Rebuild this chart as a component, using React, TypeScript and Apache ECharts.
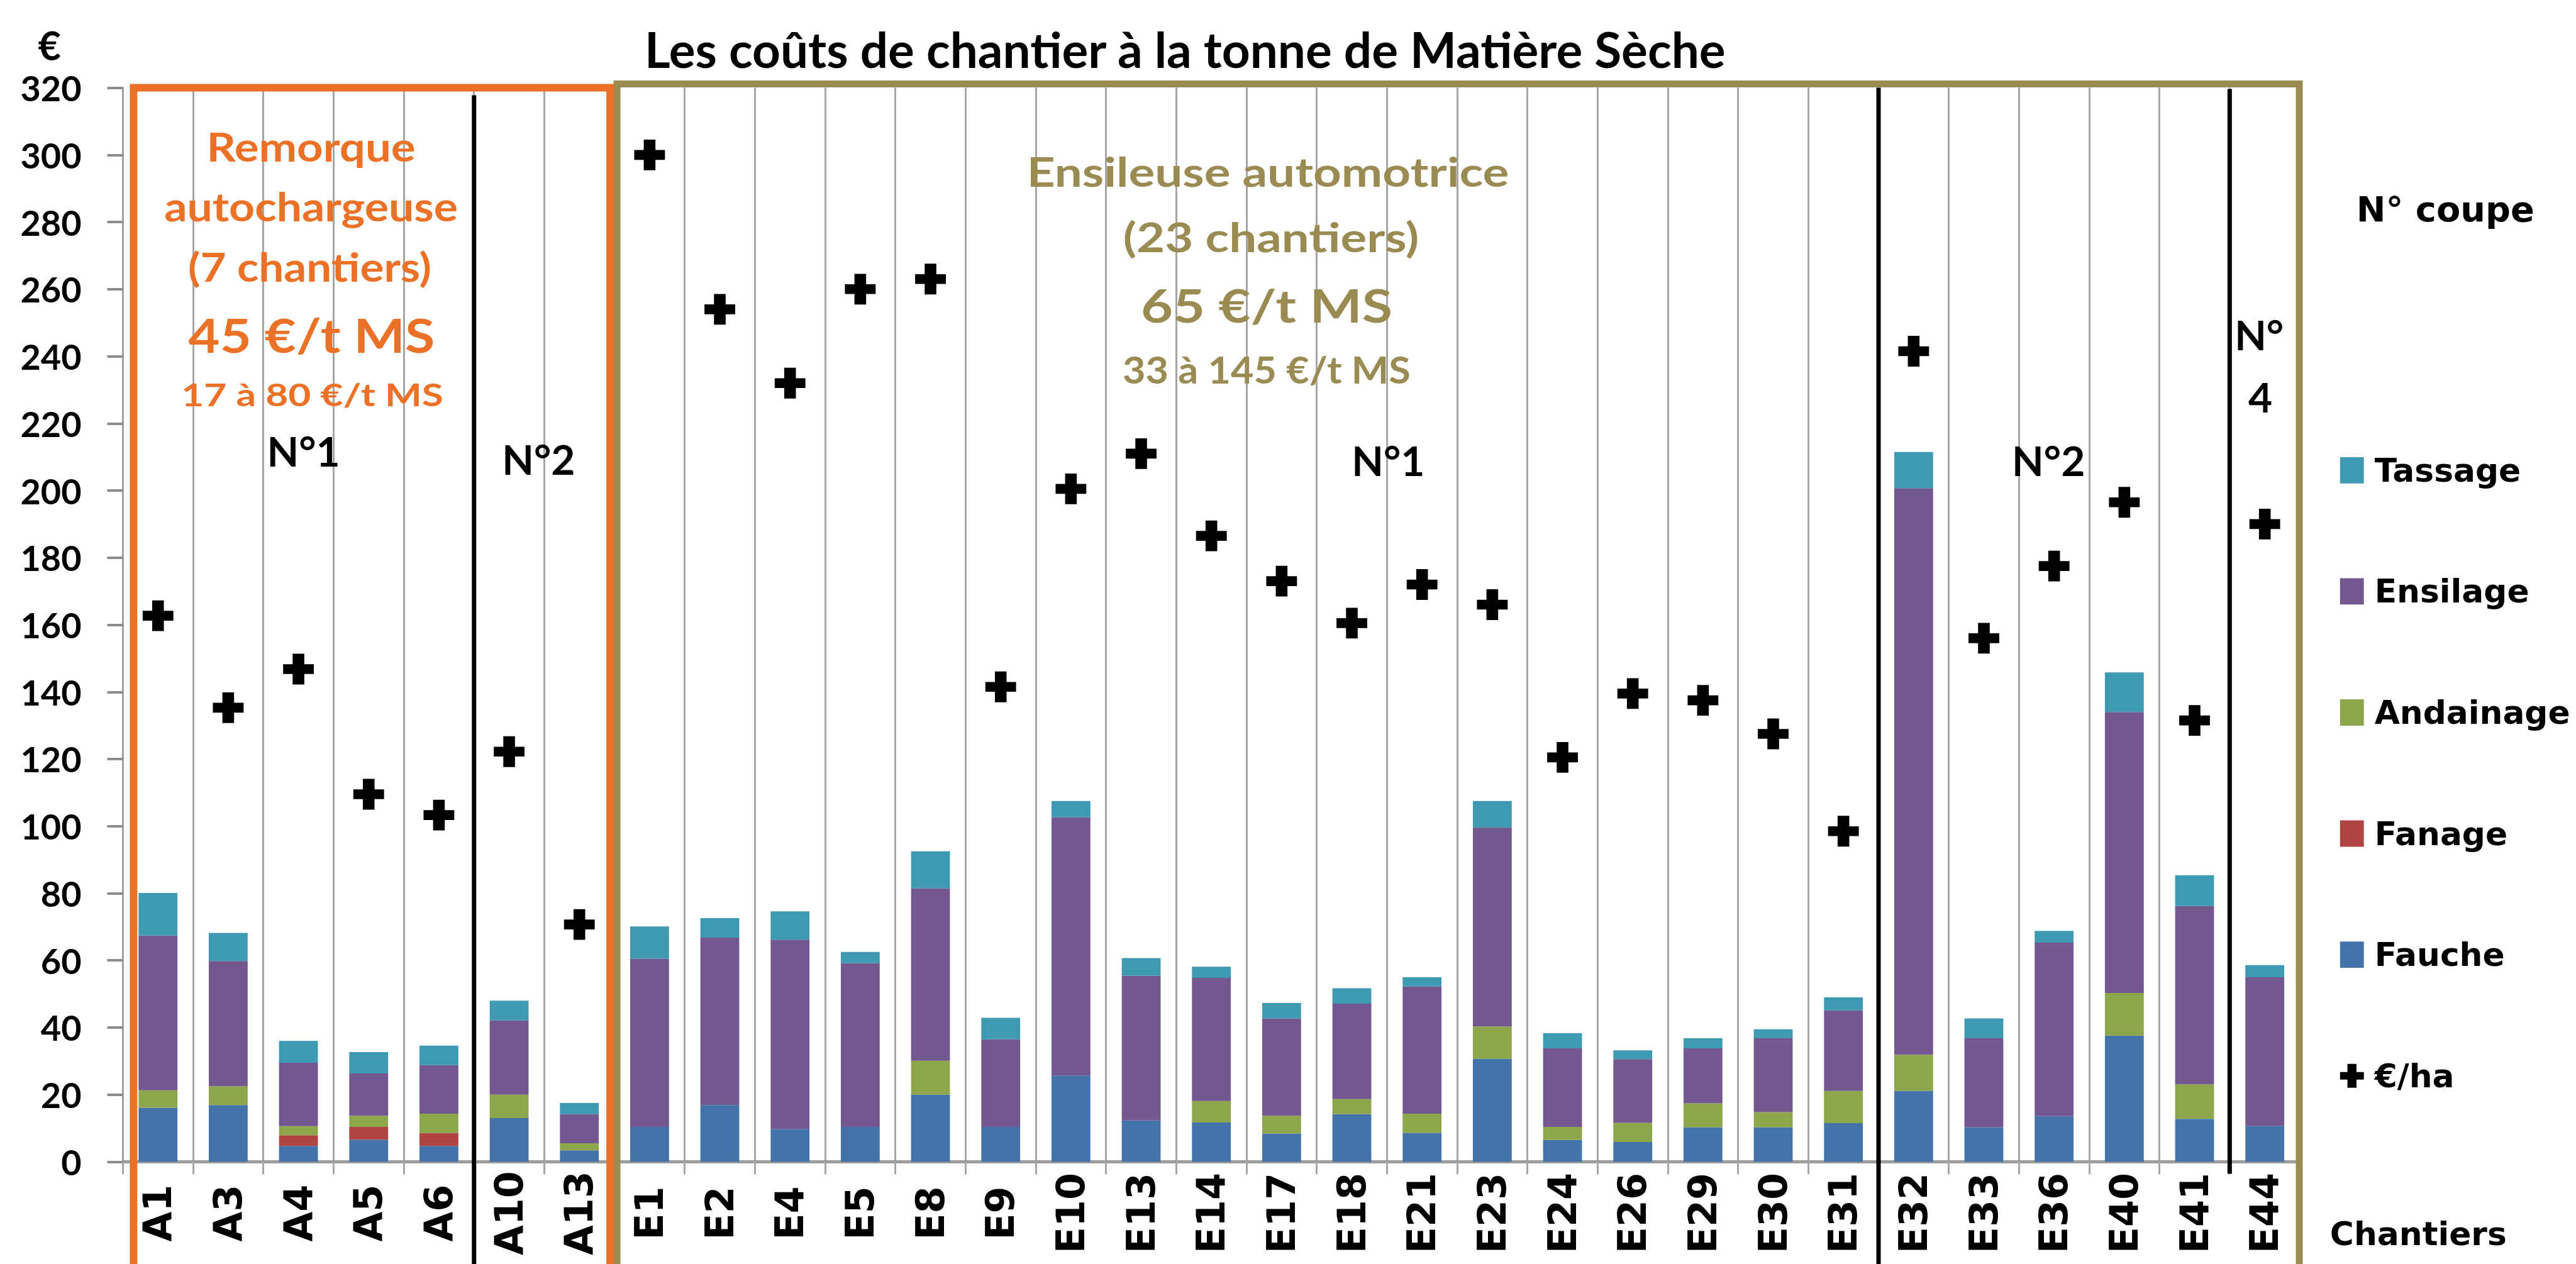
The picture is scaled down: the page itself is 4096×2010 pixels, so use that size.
import React, { useEffect, useRef } from "react";
import * as echarts from "echarts";

// ---------------- DATA ----------------
const categories = [
  "A1", "A3", "A4", "A5", "A6", "A10", "A13",
  "E1", "E2", "E4", "E5", "E8", "E9", "E10", "E13", "E14", "E17", "E18", "E21", "E23", "E24", "E26", "E29", "E30", "E31",
  "E32", "E33", "E36", "E40", "E41",
  "E44",
];
const fauche = [
  16.1, 16.9, 4.7, 6.6, 4.7, 13.0, 3.4,
  10.4, 16.9, 9.8, 10.4, 20.0, 10.4, 25.7, 12.3, 11.7, 8.4, 14.2, 8.6, 30.7, 6.5, 5.9, 10.3, 10.3, 11.5,
  21.1, 10.3, 13.6, 37.6, 12.8,
  10.7,
];
const fanage = [
  0, 0, 3.2, 3.8, 3.9, 0, 0,
  0, 0, 0, 0, 0, 0, 0, 0, 0, 0, 0, 0, 0, 0, 0, 0, 0, 0,
  0, 0, 0, 0, 0,
  0,
];
const andainage = [
  5.2, 5.6, 2.7, 3.3, 5.7, 7.0, 2.1,
  0, 0, 0, 0, 10.1, 0, 0, 0, 6.4, 5.3, 4.5, 5.7, 9.6, 3.9, 5.7, 7.1, 4.5, 9.6,
  10.8, 0, 0, 12.7, 10.3,
  0,
];
const ensilage = [
  46.1, 37.3, 18.9, 12.6, 14.5, 22.1, 8.7,
  50.1, 49.9, 56.4, 48.8, 51.4, 26.1, 76.9, 43.1, 36.7, 29.0, 28.4, 37.9, 59.3, 23.4, 19.0, 16.4, 22.0, 24.0,
  168.8, 26.5, 51.7, 83.7, 53.1,
  44.3,
];
const tassage = [
  12.7, 8.4, 6.5, 6.4, 5.8, 5.9, 3.3,
  9.6, 5.8, 8.4, 3.3, 11.0, 6.4, 4.9, 5.3, 3.3, 4.6, 4.6, 2.8, 7.9, 4.5, 2.6, 3.0, 2.7, 3.9,
  10.8, 5.9, 3.5, 11.8, 9.2,
  3.6,
];
const eurosParHa = [
  162.7, 135.3, 146.8, 109.5, 103.3, 122.2, 70.7,
  300, 254, 232, 260, 263, 141.5, 200.5, 211, 186.5, 173, 160.5, 172, 166, 120.5, 139.5, 137.5, 127.5, 98.5,
  241.5, 156, 177.5, 196.5, 131.5,
  190,
];
const yMin = 0;
const yMax = 320;
const yInterval = 20;
const legendOrder = ["Tassage", "Ensilage", "Andainage", "Fanage", "Fauche", "€/ha"];

// ---------------- LAYOUT / STYLE ----------------
const S = 0.997;
const p = (v: number) => v * S;

const PLUS = "path://M31,0H69V34H100V66H69V100H31V66H0V34H31Z";
const C_FAUCHE = "#4473AA";
const C_FANAGE = "#AE4542";
const C_ANDAIN = "#8DA64B";
const C_ENSIL = "#72588F";
const C_TASS = "#3F9AB1";
const ORANGE = "#EA7126";
const OLIVE = "#9A8B53";
const GRIDLINE = "#a6a6a6";

const GRID = { left: 196, top: 140, right: 3668, bottom: 1853 };
const bx = (k: number) => GRID.left + (k * (GRID.right - GRID.left)) / categories.length;

type Note = { text: string; cx: number; cy: number; size: number; color: string; w?: number };
const notes: Note[] = [
  { text: "Les coûts de chantier à la tonne de Matière Sèche", cx: 1890, cy: 78, size: 78, color: "#000", w: 1725 },
  { text: "€", cx: 79, cy: 72, size: 63, color: "#000" },
  { text: "Remorque", cx: 496, cy: 233, size: 64, color: ORANGE, w: 333 },
  { text: "autochargeuse", cx: 496, cy: 328, size: 64, color: ORANGE, w: 468 },
  { text: "(7 chantiers)", cx: 494, cy: 424, size: 64, color: ORANGE, w: 388 },
  { text: "45 €/t MS", cx: 497, cy: 533, size: 75, color: ORANGE, w: 393 },
  { text: "17 à 80 €/t MS", cx: 498, cy: 628, size: 50, color: ORANGE, w: 418 },
  { text: "Ensileuse automotrice", cx: 2022, cy: 272, size: 66, color: OLIVE, w: 769 },
  { text: "(23 chantiers)", cx: 2027, cy: 377, size: 66, color: OLIVE, w: 472 },
  { text: "65 €/t MS", cx: 2020, cy: 487, size: 72, color: OLIVE, w: 401 },
  { text: "33 à 145 €/t MS", cx: 2020, cy: 588, size: 60, color: OLIVE, w: 459 },
  { text: "N°1", cx: 484, cy: 719, size: 66, color: "#000" },
  { text: "N°2", cx: 859, cy: 732, size: 66, color: "#000" },
  { text: "N°1", cx: 2214, cy: 734, size: 66, color: "#000" },
  { text: "N°2", cx: 3267, cy: 734, size: 66, color: "#000" },
  { text: "N°", cx: 3603, cy: 533, size: 66, color: "#000" },
  { text: "4", cx: 3605, cy: 632, size: 66, color: "#000" },
];

export default function App() {
  const ref = useRef<HTMLDivElement>(null);

  useEffect(() => {
    const el = ref.current;
    if (!el) return;
    const chart = echarts.init(el, null, { renderer: "svg" });

    const ctx = document.createElement("canvas").getContext("2d");
    const fitScale = (text: string, size: number, width?: number) => {
      if (!width || !ctx) return 1;
      ctx.font = `bold ${p(size)}px Lato`;
      const m = ctx.measureText(text).width;
      return m > 0 ? p(width) / m : 1;
    };

    const graphics: any[] = [];
    // Orange box (Remorque autochargeuse)
    graphics.push({
      type: "polyline",
      z: 20,
      shape: { points: [[p(bx(0) + 17), p(2020)], [p(bx(0) + 17), p(140)], [p(bx(7) - 7), p(140)], [p(bx(7) - 7), p(2020)]] },
      style: { stroke: ORANGE, lineWidth: p(12), fill: null, lineJoin: "miter" },
    });
    // Olive box (Ensileuse automotrice)
    graphics.push({
      type: "polyline",
      z: 19,
      shape: { points: [[p(bx(7) + 4), p(2020)], [p(bx(7) + 4), p(134)], [p(bx(31) - 1), p(134)], [p(bx(31) - 1), p(2020)]] },
      style: { stroke: OLIVE, lineWidth: p(11), fill: null, lineJoin: "miter" },
    });
    // Black separators between cuts
    const seps = [
      { k: 5, y1: 152, y2: 2020 },
      { k: 25, y1: 140, y2: 2020 },
      { k: 30, y1: 142, y2: 1872 },
    ];
    seps.forEach((s) =>
      graphics.push({
        type: "line",
        z: 18,
        shape: { x1: p(bx(s.k)), y1: p(s.y1), x2: p(bx(s.k)), y2: p(s.y2) },
        style: { stroke: "#000", lineWidth: p(7) },
      })
    );
    notes.forEach((n) =>
      graphics.push({
        type: "text",
        z: 25,
        x: p(n.cx),
        y: p(n.cy),
        scaleX: fitScale(n.text, n.size, n.w),
        style: {
          text: n.text,
          fill: n.color,
          fontSize: p(n.size),
          fontFamily: "Lato",
          fontWeight: "bold",
          align: "center",
          verticalAlign: "middle",
          textAlign: "center",
          textVerticalAlign: "middle",
        },
      })
    );
    graphics.push({
      type: "text",
      z: 25,
      x: p(3758),
      y: p(333),
      style: {
        text: "N° coupe",
        fill: "#000",
        fontSize: p(56),
        fontFamily: "DejaVu Sans",
        fontWeight: "bold",
        align: "left",
        verticalAlign: "middle",
        textAlign: "left",
        textVerticalAlign: "middle",
      },
    });
    graphics.push({
      type: "text",
      z: 25,
      x: p(3716),
      y: p(1968),
      style: {
        text: "Chantiers",
        fill: "#000",
        fontSize: p(52),
        fontFamily: "DejaVu Sans",
        fontWeight: "bold",
        align: "left",
        verticalAlign: "middle",
        textAlign: "left",
        textVerticalAlign: "middle",
      },
    });

    const barCommon = {
      type: "bar",
      stack: "cout",
      barWidth: p(62),
      z: 3,
    };

    const option: any = {
      animation: false,
      backgroundColor: "#ffffff",
      grid: {
        left: p(GRID.left),
        top: p(GRID.top),
        width: p(GRID.right - GRID.left),
        height: p(GRID.bottom - GRID.top),
        containLabel: false,
      },
      legend: {
        orient: "vertical",
        left: p(3732),
        top: p(724),
        padding: 0,
        itemWidth: p(38),
        itemHeight: p(42),
        itemGap: p(141),
        selectedMode: false,
        data: legendOrder.map((n) => ({ name: n, icon: n === "€/ha" ? PLUS : "rect" })),
        textStyle: {
          fontFamily: "DejaVu Sans",
          fontWeight: "bold",
          fontSize: p(52),
          color: "#000",
          lineHeight: p(42),
          padding: [0, 0, 0, p(12)],
        },
      },
      xAxis: {
        type: "category",
        data: categories,
        boundaryGap: true,
        axisLine: { show: true, lineStyle: { color: "#9c9c9c", width: p(5) } },
        axisTick: { show: true, length: p(20), lineStyle: { color: GRIDLINE, width: p(3) } },
        splitLine: { show: true, lineStyle: { color: GRIDLINE, width: p(3) } },
        axisLabel: {
          interval: 0,
          rotate: 90,
          align: "center",
          verticalAlign: "middle",
          margin: p(82),
          fontFamily: "DejaVu Sans",
          fontWeight: "bold",
          fontSize: p(62),
          color: "#000",
        },
      },
      yAxis: {
        type: "value",
        min: yMin,
        max: yMax,
        interval: yInterval,
        axisLine: { show: true, lineStyle: { color: "#a0a0a0", width: p(3) } },
        axisTick: { show: true, inside: false, length: p(25), lineStyle: { color: "#8c8c8c", width: p(4) } },
        splitLine: { show: false },
        axisLabel: {
          margin: p(66),
          fontFamily: "Lato",
          fontWeight: "bold",
          fontSize: p(56),
          color: "#000",
        },
      },
      series: [
        { ...barCommon, name: "Fauche", data: fauche, itemStyle: { color: C_FAUCHE } },
        { ...barCommon, name: "Fanage", data: fanage, itemStyle: { color: C_FANAGE } },
        { ...barCommon, name: "Andainage", data: andainage, itemStyle: { color: C_ANDAIN } },
        { ...barCommon, name: "Ensilage", data: ensilage, itemStyle: { color: C_ENSIL } },
        { ...barCommon, name: "Tassage", data: tassage, itemStyle: { color: C_TASS } },
        {
          type: "scatter",
          name: "€/ha",
          data: eurosParHa,
          symbol: PLUS,
          symbolSize: p(49),
          itemStyle: { color: "#000", opacity: 1 },
          z: 6,
        },
      ],
      graphic: { elements: graphics },
    };

    chart.setOption(option);
    return () => chart.dispose();
  }, []);

  return (
    <div
      ref={ref}
      style={{ position: "fixed", left: 0, top: 0, width: "4096px", height: "2010px", background: "#fff" }}
    />
  );
}
